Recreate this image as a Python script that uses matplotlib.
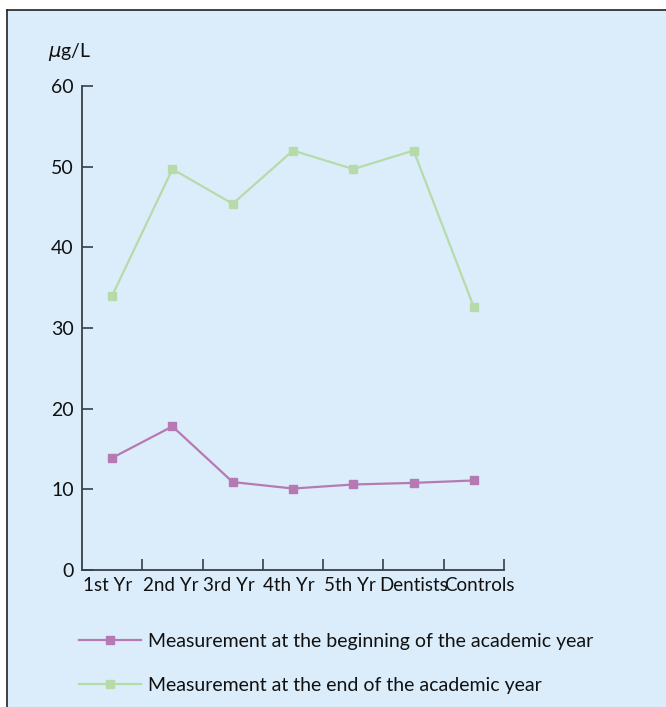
import matplotlib
matplotlib.use("Agg")
import matplotlib.pyplot as plt
from matplotlib.lines import Line2D
from matplotlib.patches import Rectangle
from matplotlib.transforms import ScaledTranslation
import numpy as np

plt.rcParams['font.family'] = ['Lato', 'DejaVu Sans']

categories = ["1st Yr", "2nd Yr", "3rd Yr", "4th Yr", "5th Yr", "Dentists", "Controls"]
begin_year = [13.9, 17.8, 10.9, 10.1, 10.6, 10.8, 11.1]
end_year = [34.0, 49.7, 45.4, 52.0, 49.7, 52.0, 32.6]
y_ticks = [0, 10, 20, 30, 40, 50, 60]
series_labels = ["Measurement at the beginning of the academic year",
                 "Measurement at the end of the academic year"]

W, H = 666, 707
bg = '#dbedfb'
pink = '#b57ab2'
green = '#b6dba9'
axis_col = '#3a3f45'
txt = '#111111'
fs = 14

fig = plt.figure(figsize=(W / 100, H / 100), dpi=100, facecolor='white')

# light blue panel with a dark border on the top and left edges
fig.add_artist(Rectangle((7 / W, 0), 1 - 7 / W, 1 - 10 / H, transform=fig.transFigure,
                         facecolor=bg, edgecolor='none', zorder=0))
fig.add_artist(Line2D([7 / W, 7 / W], [0, 1 - 10 / H], transform=fig.transFigure,
                      color='#222222', lw=1.2, zorder=1))
fig.add_artist(Line2D([7 / W, 1], [1 - 10 / H, 1 - 10 / H], transform=fig.transFigure,
                      color='#222222', lw=1.2, zorder=1))

left, right, top, bottom = 82, 504, 86, 570
ax = fig.add_axes([left / W, 1 - bottom / H, (right - left) / W, (bottom - top) / H])
ax.set_facecolor('none')

x = np.arange(len(categories)) + 0.5
ax.plot(x, begin_year, color=pink, lw=1.6, marker='s', ms=6, mec=pink, mfc=pink,
        label=series_labels[0], clip_on=False)
ax.plot(x, end_year, color=green, lw=1.6, marker='s', ms=6, mec=green, mfc=green,
        label=series_labels[1], clip_on=False)

ax.set_xlim(0, len(categories))
ax.set_ylim(0, 60)
for s in ['top', 'right']:
    ax.spines[s].set_visible(False)
for s in ['left', 'bottom']:
    ax.spines[s].set_color(axis_col)
    ax.spines[s].set_linewidth(1.3)

ax.set_yticks(y_ticks)
ax.set_yticklabels([str(v) for v in y_ticks], fontsize=fs, color=txt)
ax.tick_params(axis='y', direction='in', length=8, width=1.2, color=axis_col, pad=6)

# category boundaries carry the tick marks; names start at each boundary
ax.set_xticks(np.arange(1, len(categories) + 1))
ax.set_xticklabels([])
ax.set_xticks(np.arange(len(categories)) + 0.01, minor=True)
ax.set_xticklabels(categories, minor=True, fontsize=13.5, color=txt, ha='left')
ax.tick_params(axis='x', which='major', direction='in', length=8, width=1.2, color=axis_col)
ax.tick_params(axis='x', which='minor', length=0, pad=5)
for lab in ax.get_xticklabels(minor=True):
    if lab.get_text() == "Dentists":
        lab.set_transform(lab.get_transform() + ScaledTranslation(-5 / 100, 0, fig.dpi_scale_trans))

fig.text(48 / W, 1 - 52 / H, r'$\mu$g/L', fontsize=fs, va='center', ha='left', color=txt)

ax.legend(loc='upper left', bbox_to_anchor=(79 / W, 1 - 633 / H), bbox_transform=fig.transFigure,
          frameon=False, fontsize=fs, handlelength=3.2, handletextpad=0.36,
          labelspacing=1.4, borderaxespad=0, borderpad=0, markerscale=1.0,
          labelcolor=txt)

fig.savefig('out.png', dpi=100, facecolor='white')
